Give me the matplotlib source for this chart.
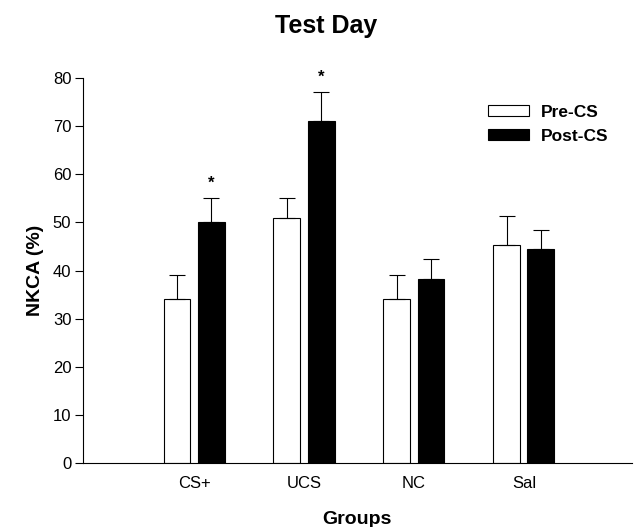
import matplotlib.pyplot as plt
import numpy as np
from matplotlib.patches import Patch

plt.rcParams['font.family'] = ['Liberation Sans', 'DejaVu Sans']

# Data
groups = ['CS+', 'UCS', 'NC', 'Sal']
pre_cs = [34, 51, 34, 45.3]
pre_err = [5, 4, 5, 6]
post_cs = [50, 71, 38.3, 44.4]
post_err = [5, 6, 4, 4]
signif = [True, True, False, False]

x = np.arange(len(groups))
w = 0.245
off = 0.155

fig = plt.figure(figsize=(6.35, 5.27), dpi=100)
ax = fig.add_axes([0.1307, 0.1214, 0.864, 0.7306])

ax.bar(x - off, pre_cs, w, color='white', edgecolor='black', linewidth=0.8)
ax.bar(x + off, post_cs, w, color='black', edgecolor='black', linewidth=0.8)

ax.errorbar(x - off, pre_cs, yerr=[np.zeros(4), pre_err], fmt='none',
            ecolor='black', elinewidth=0.8, capsize=6, capthick=0.8)
ax.errorbar(x + off, post_cs, yerr=[np.zeros(4), post_err], fmt='none',
            ecolor='black', elinewidth=0.8, capsize=6, capthick=0.8)

# significance stars
for i in range(len(groups)):
    if signif[i]:
        ax.text(x[i] + off, post_cs[i] + post_err[i] + 1.5, '*', ha='center',
                va='bottom', fontsize=12, fontweight='bold', clip_on=False)

ax.set_xlim(-1.01, 3.98)
ax.set_ylim(0, 80)
ax.set_yticks(range(0, 81, 10))
ax.set_xticks(x)
ax.set_xticklabels(groups)
ax.tick_params(axis='x', length=0, pad=9, labelsize=12)
ax.tick_params(axis='y', length=6, width=0.8, direction='out', pad=2.4,
               labelsize=12)
for s in ['top', 'right']:
    ax.spines[s].set_visible(False)
for s in ['left', 'bottom']:
    ax.spines[s].set_linewidth(0.8)

ax.set_ylabel('NKCA (%)', fontsize=14, fontweight='bold', labelpad=6)
ax.set_xlabel('Groups', fontsize=14, fontweight='bold', labelpad=15)
fig.text(0.513, 0.95, 'Test Day', ha='center', va='center', fontsize=18,
         fontweight='bold')

handles = [Patch(facecolor='white', edgecolor='black', linewidth=0.8),
           Patch(facecolor='black', edgecolor='black', linewidth=0.8)]
leg = fig.legend(handles, ['Pre-CS', 'Post-CS'], loc='upper left',
                 bbox_to_anchor=(488 / 635, 1 - 105 / 527),
                 bbox_transform=fig.transFigure, frameon=False,
                 borderpad=0, borderaxespad=0, handlelength=2.36,
                 handleheight=0.61, handletextpad=0.69, labelspacing=0.5,
                 prop={'weight': 'bold', 'size': 12.5})

fig.savefig('out.png', dpi=100)
